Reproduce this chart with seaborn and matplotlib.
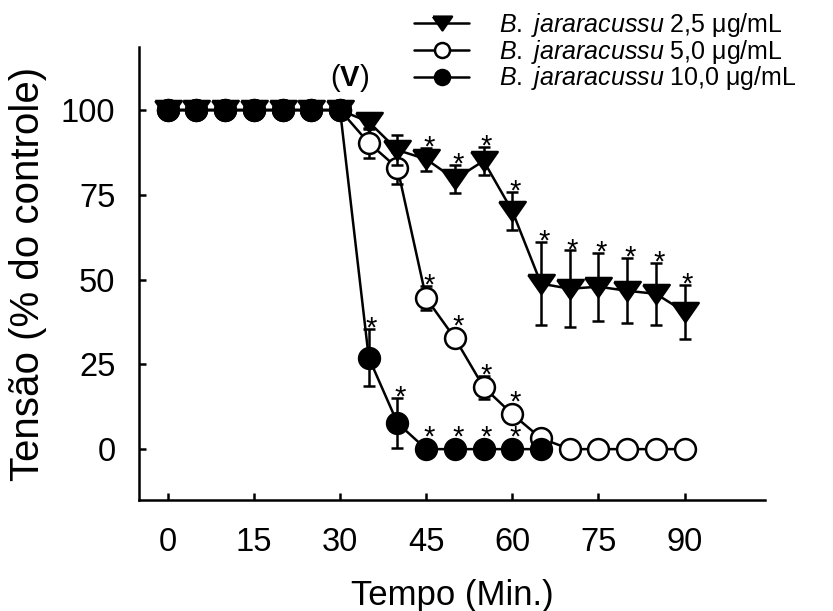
import matplotlib
matplotlib.use("Agg")
import matplotlib.pyplot as plt
import seaborn as sns
import numpy as np
import pandas as pd

# Time points (min)
time = [0, 5, 10, 15, 20, 25, 30, 35, 40, 45, 50, 55, 60, 65, 70, 75, 80, 85, 90]

# B. jararacussu 2,5 ug/mL
mean_25 = [100, 100, 100, 100, 100, 100, 100, 96.5, 88.2, 85.5, 79.6, 85.0, 70.2,
           48.8, 47.3, 47.9, 46.7, 45.8, 40.5]
err_25 = [0, 0, 0, 0, 0, 0, 0, 2.0, 4.4, 3.4, 4.1, 4.1, 5.6,
          12.2, 11.3, 10.0, 9.6, 9.1, 7.9]
sig_25 = [45, 50, 55, 60, 65, 70, 75, 80, 85, 90]

# B. jararacussu 5,0 ug/mL
mean_50 = [100, 100, 100, 100, 100, 100, 100, 90.3, 82.9, 44.5, 32.7, 18.3, 10.3,
           3.2, 0, 0, 0, 0, 0]
err_50 = [0, 0, 0, 0, 0, 0, 0, 4.5, 4.7, 3.5, 2.0, 3.4, 2.0,
          1.0, 0, 0, 0, 0, 0]
sig_50 = [45, 50, 55, 60]

# B. jararacussu 10,0 ug/mL (recorded up to 65 min)
time_100 = [0, 5, 10, 15, 20, 25, 30, 35, 40, 45, 50, 55, 60, 65]
mean_100 = [100, 100, 100, 100, 100, 100, 100, 27.0, 7.7, 0, 0, 0, 0, 0]
err_100 = [0, 0, 0, 0, 0, 0, 0, 8.4, 7.5, 0, 0, 0, 0, 0]
sig_100 = [35, 40, 45, 50, 55, 60]

labels = [r"$\it{B.}$ $\it{jararacussu}$ 2,5 μg/mL",
          r"$\it{B.}$ $\it{jararacussu}$ 5,0 μg/mL",
          r"$\it{B.}$ $\it{jararacussu}$ 10,0 μg/mL"]

xticks = [0, 15, 30, 45, 60, 75, 90]
yticks = [0, 25, 50, 75, 100]

sns.set_style("ticks")
plt.rcParams["font.family"] = ["Liberation Sans", "DejaVu Sans"]
plt.rcParams["mathtext.fontset"] = "custom"
plt.rcParams["mathtext.rm"] = "Liberation Sans"
plt.rcParams["mathtext.it"] = "Liberation Sans:italic"
plt.rcParams["mathtext.bf"] = "Liberation Sans:bold"
for key in ("text.color", "axes.labelcolor", "xtick.color", "ytick.color",
            "axes.edgecolor"):
    plt.rcParams[key] = "black"

fig = plt.figure(figsize=(8.33, 6.11), dpi=100)
ax = fig.add_axes([0.1669, 0.1817, 0.7515, 0.7414])

tri_down = [(-1, 0.72), (1, 0.72), (0, -0.72), (-1, 0.72)]
lw = 1.8


def draw_series(x, y, e, marker, ms, face, label, z):
    df = pd.DataFrame({"t": x, "v": y, "e": e})
    sns.lineplot(data=df, x="t", y="v", ax=ax, color="black", linewidth=lw,
                 marker=marker, markersize=ms, markerfacecolor=face,
                 markeredgecolor="black", markeredgewidth=1.8,
                 label=label, zorder=z, legend=False)
    m = df[df.e > 0]
    ax.errorbar(m.t, m.v, yerr=m.e, fmt="none", ecolor="black",
                elinewidth=lw, capsize=4.5, capthick=lw, zorder=z - 0.5)
    return df


d50 = draw_series(time, mean_50, err_50, "o", 15, "white", labels[1], 3)
d100 = draw_series(time_100, mean_100, err_100, "o", 15, "black", labels[2], 4)
d25 = draw_series(time, mean_25, err_25, tri_down, 19, "black", labels[0], 5)

# Significance marks just above each flagged point (or its error bar)
for df, sig in ((d25, sig_25), (d50, sig_50), (d100, sig_100)):
    for _, r in df[df.t.isin(sig)].iterrows():
        top = max(r.v + r.e, r.v + 3.4)
        ax.annotate("*", (r.t, top), xytext=(2, -5.5), textcoords="offset points",
                    ha="center", va="baseline", fontsize=21, zorder=10)

ax.text(31.7, 109.5, r"($\mathbf{V}$)", ha="center", va="center", fontsize=21)

ax.set_xlim(-5, 104)
ax.set_ylim(-15, 118.6)
ax.set_xticks(xticks)
ax.set_yticks(yticks)
ax.set_xlabel("Tempo (Min.)", fontsize=25, labelpad=15)
ax.set_ylabel("Tensão (% do controle)", fontsize=29, labelpad=10)
ax.tick_params(axis="both", direction="in", length=5, width=lw, labelsize=23.5)
ax.tick_params(axis="x", pad=19.5)
ax.tick_params(axis="y", pad=17)
for s in ("left", "bottom"):
    ax.spines[s].set_linewidth(lw)
sns.despine(ax=ax)

handles, labs = ax.get_legend_handles_labels()
order = [labs.index(l) for l in labels]
leg = fig.legend([handles[i] for i in order], [labs[i] for i in order],
                 loc="upper left", bbox_to_anchor=(0.476, 1.011),
                 frameon=False, fontsize=18, markerscale=0.72,
                 handlelength=2.2, handletextpad=1.2, labelspacing=-0.05,
                 borderpad=0.2)

fig.savefig("out.png", dpi=100)
